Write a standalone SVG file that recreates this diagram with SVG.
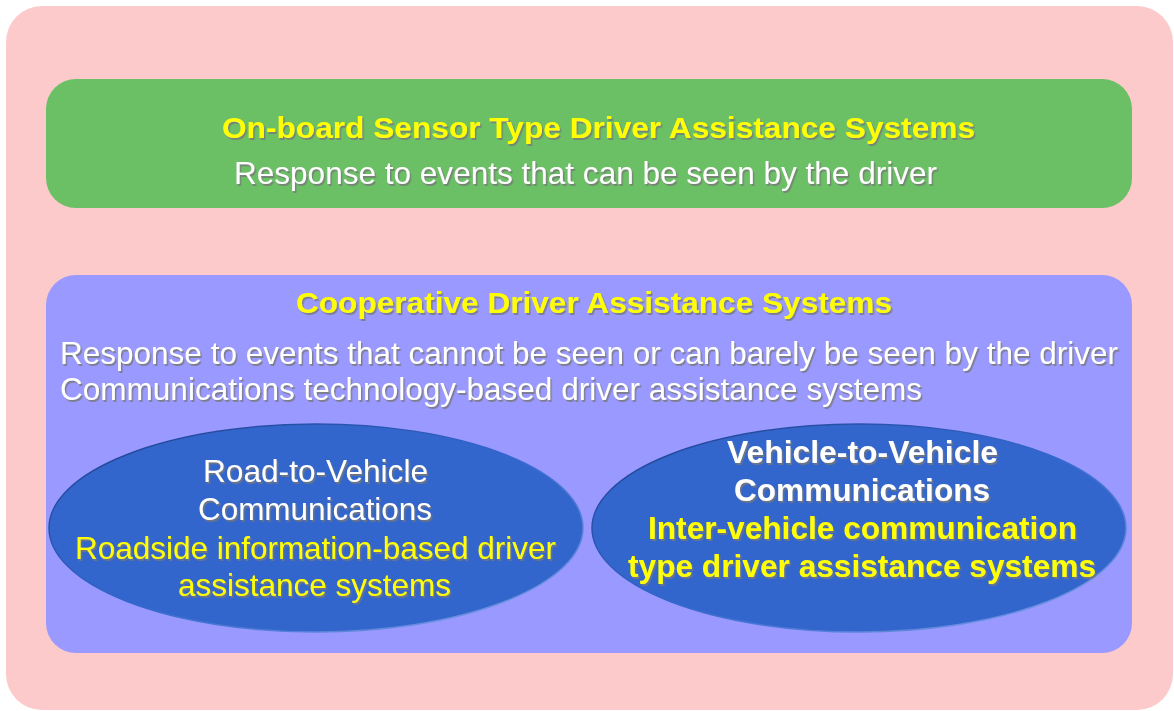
<svg xmlns="http://www.w3.org/2000/svg" width="1174" height="711" viewBox="0 0 1174 711">
<defs>
<filter id="sh" x="-5%" y="-20%" width="110%" height="150%">
<feDropShadow dx="1.5" dy="2" stdDeviation="0.6" flood-color="#777" flood-opacity="0.8"/>
</filter>
<linearGradient id="eg" x1="0" y1="0" x2="1" y2="1">
<stop offset="0" stop-color="#1f3f8a"/>
<stop offset="0.5" stop-color="#3366cc"/>
<stop offset="1" stop-color="#7fa0e8"/>
</linearGradient>
</defs>
<style>
text{font-family:"Liberation Sans",Arimo,Arial,sans-serif;text-anchor:middle;filter:url(#sh)}
.t{font-weight:bold;fill:#ffff00;font-size:30px}
.w{fill:#ffffff;font-size:32px}
.wb{fill:#ffffff;font-size:31px;font-weight:bold}
.y{fill:#ffff00;font-size:32px}
.yb{fill:#ffff00;font-size:31px;font-weight:bold}
.ell{fill:#3366cc;stroke:url(#eg);stroke-width:1.5}
</style>
<g id="outer">
<rect x="6" y="6" width="1167" height="704" rx="36" fill="#fccaca"/>
</g>
<g id="onboard">
<rect x="46" y="79" width="1086" height="129" rx="30" fill="#6bbf65"/>
<text class="t" x="598.5" y="138" textLength="753" lengthAdjust="spacingAndGlyphs">On-board Sensor Type Driver Assistance Systems</text>
<text class="w" x="585.5" y="184" textLength="703" lengthAdjust="spacingAndGlyphs">Response to events that can be seen by the driver</text>
</g>
<g id="cooperative">
<rect x="46" y="275" width="1086" height="378" rx="30" fill="#9999ff"/>
<text class="t" x="594" y="313" textLength="596" lengthAdjust="spacingAndGlyphs">Cooperative Driver Assistance Systems</text>
<text class="w" x="589" y="364" textLength="1058" lengthAdjust="spacingAndGlyphs">Response to events that cannot be seen or can barely be seen by the driver</text>
<text class="w" x="491" y="400" textLength="862" lengthAdjust="spacingAndGlyphs">Communications technology-based driver assistance systems</text>
</g>
<g id="road">
<ellipse class="ell" cx="316" cy="528" rx="267" ry="104"/>
<text class="w" x="315.5" y="482" textLength="225" lengthAdjust="spacingAndGlyphs">Road-to-Vehicle</text>
<text class="w" x="315" y="520" textLength="234" lengthAdjust="spacingAndGlyphs">Communications</text>
<text class="y" x="315.5" y="559" textLength="481" lengthAdjust="spacingAndGlyphs">Roadside information-based driver</text>
<text class="y" x="314.5" y="596" textLength="273" lengthAdjust="spacingAndGlyphs">assistance systems</text>
</g>
<g id="vehicle">
<ellipse class="ell" cx="859" cy="528" rx="267" ry="104"/>
<text class="wb" x="862.5" y="463" textLength="271" lengthAdjust="spacingAndGlyphs">Vehicle-to-Vehicle</text>
<text class="wb" x="862" y="501" textLength="256" lengthAdjust="spacingAndGlyphs">Communications</text>
<text class="yb" x="862.5" y="539" textLength="429" lengthAdjust="spacingAndGlyphs">Inter-vehicle communication</text>
<text class="yb" x="862" y="577" textLength="468" lengthAdjust="spacingAndGlyphs">type driver assistance systems</text>
</g>
<g id="connectors"/>
</svg>
